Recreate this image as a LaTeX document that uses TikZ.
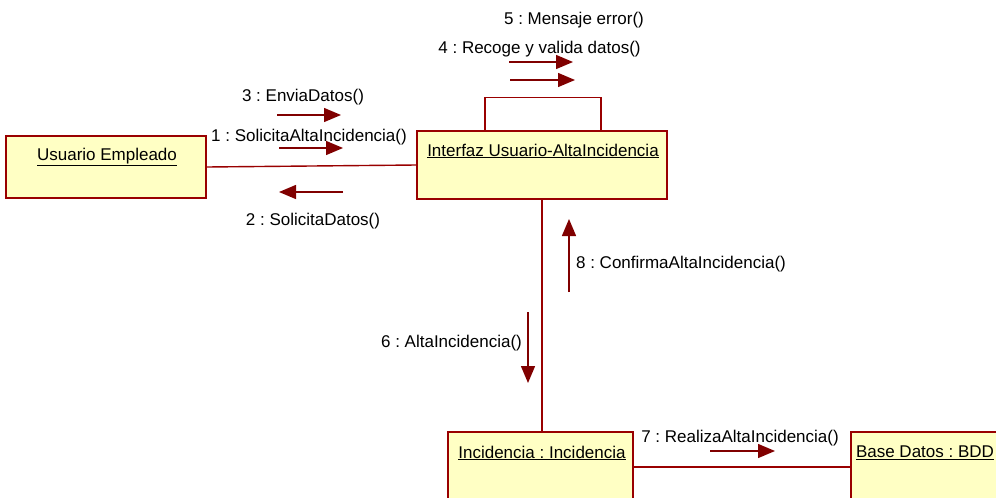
\documentclass[tikz,border=0pt]{standalone}
\usepackage{fontspec}
\setmainfont{Liberation Sans}
\usetikzlibrary{arrows.meta,calc}
\definecolor{dred}{HTML}{800000}
\definecolor{bred}{HTML}{990000}
\definecolor{objfill}{HTML}{FFFFC4}
\frenchspacing
\newcommand{\ulname}[1]{\underline{#1}}
\tikzset{
  obj/.style={draw=bred, fill=objfill, line width=1.4pt, inner sep=0pt},
  lbl/.style={inner sep=0pt, font=\fontsize{17}{20}\selectfont},
  link/.style={draw=bred, line width=1.4pt},
  msg/.style={draw=dred, line width=1.4pt, -{Triangle[length=17pt,width=14pt]}},
}
\begin{document}
\begin{tikzpicture}[x=1pt,y=-1pt]
\useasboundingbox (0,0) rectangle (996,498);
\clip (0,0) rectangle (996,498);
% objects
\node[obj, minimum width=200pt, minimum height=62pt] (ue) at (106,167) {};
\node[lbl] (uet) at (107,157) {\ulname{Usuario Empleado}};
\node[obj, minimum width=250pt, minimum height=68pt] (ui) at (542,165) {};
\node[lbl] (uit) at (543,151) {\ulname{Interfaz Usuario-AltaIncidencia}};
\node[obj, minimum width=185pt, minimum height=70pt] (inc) at (540.5,467) {};
\node[lbl] (inct) at (542,453) {\ulname{Incidencia : Incidencia}};
\node[obj, minimum width=150pt, minimum height=70pt] (bd) at (926,467) {};
\node[lbl] (bdt) at (925,453) {\ulname{Base Datos : BDD}};
% links
\draw[link] (ue.east) -- (ui.west);
\draw[link] (ui.south) -- (ui.south |- inc.north);
\draw[link] (inc.east) -- (bd.west);
\draw[link] ($(ui.north)+(-57,0)$) -- ++(0,-33) -| ($(ui.north)+(59,0)$);
% message labels
\node[lbl] (t5) at (574,20) {5 : Mensaje error()};
\node[lbl] (t4) at (539.5,49) {4 : Recoge y valida datos()};
\node[lbl] (t3) at (303,97) {3 : EnviaDatos()};
\node[lbl] (t1) at (309,137) {1 : SolicitaAltaIncidencia()};
\node[lbl] (t2) at (313,221) {2 : SolicitaDatos()};
\node[lbl] (t8) at (681,264) {8 : ConfirmaAltaIncidencia()};
\node[lbl] (t6) at (451.5,343) {6 : AltaIncidencia()};
\node[lbl] (t7) at (740,438) {7 : RealizaAltaIncidencia()};
% message arrows
\coordinate (m3a) at (277,115); \coordinate (m3b) at (341,115);
\coordinate (m1a) at (279,148); \coordinate (m1b) at (343,148);
\coordinate (m2a) at (343,192); \coordinate (m2b) at (279,192);
\coordinate (m4a) at (509,62);  \coordinate (m4b) at (573,62);
\coordinate (m5a) at (510,80);  \coordinate (m5b) at (575,80);
\coordinate (m8a) at (569,292); \coordinate (m8b) at (569,219);
\coordinate (m6a) at (528,312); \coordinate (m6b) at (528,383);
\coordinate (m7a) at (710,451); \coordinate (m7b) at (775,451);
\draw[msg] (m3a) -- (m3b);
\draw[msg] (m1a) -- (m1b);
\draw[msg] (m2a) -- (m2b);
\draw[msg] (m4a) -- (m4b);
\draw[msg] (m5a) -- (m5b);
\draw[msg] (m8a) -- (m8b);
\draw[msg] (m6a) -- (m6b);
\draw[msg] (m7a) -- (m7b);
\end{tikzpicture}
\end{document}
